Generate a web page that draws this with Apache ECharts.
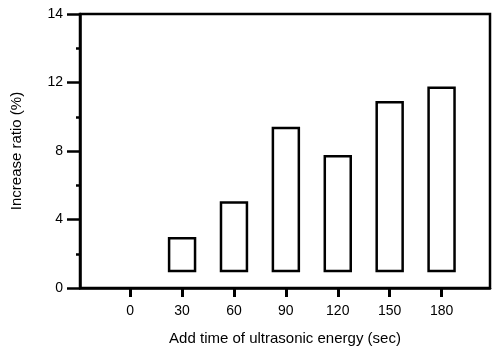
<!DOCTYPE html>
<html>
<head>
<meta charset="utf-8">
<script src="https://cdn.jsdelivr.net/npm/echarts@6/dist/echarts.min.js"></script>
<style>
  html, body { margin: 0; padding: 0; background: #fff; }
  #main { width: 492px; height: 347px; }
</style>
</head>
<body>
<div id="main"></div>
<script>
// add time of ultrasonic energy (sec)
const times = [0, 30, 60, 90, 120, 150, 180];
// bars are drawn from a base to a top (increase ratio, %)
const barTimes = [30, 60, 90, 120, 150, 180];
const barBottoms = [1, 1, 1, 1, 1, 1];
const barTops = [2.9, 5.0, 9.35, 7.7, 10.85, 11.7];
// the y tick labels as printed in the original (top one reads 14)
const yTickLabels = ['0', '4', '8', '12', '14'];

let chart = echarts.init(document.getElementById('main'));

let barData = barTimes.map((t, i) => [t, barBottoms[i], barTops[i]]);

let option = {
  animation: false,
  textStyle: { fontFamily: 'Liberation Sans, Arial, sans-serif', color: '#000' },
  grid: {
    left: 80, right: 2, top: 14, bottom: 59,
    outerBoundsMode: 'none',
    show: true,
    borderColor: '#000',
    borderWidth: 2.5
  },
  xAxis: {
    type: 'value',
    min: -29,
    max: 208,
    name: 'Add time of ultrasonic energy (sec)',
    nameLocation: 'middle',
    nameGap: 43,
    nameTextStyle: { fontSize: 15, color: '#000' },
    axisLine: { onZero: false, lineStyle: { color: '#000', width: 2.5 } },
    axisTick: { show: true, customValues: times, length: 9, lineStyle: { color: '#000', width: 3 } },
    axisLabel: { customValues: times, margin: 16, fontSize: 14, color: '#000' },
    splitLine: { show: false }
  },
  yAxis: {
    type: 'value',
    min: 0,
    max: 16,
    interval: 4,
    name: 'Increase ratio (%)',
    nameLocation: 'middle',
    nameGap: 56,
    nameTextStyle: { fontSize: 15, color: '#000' },
    axisLine: { show: true, onZero: false, lineStyle: { color: '#000', width: 2.5 } },
    axisTick: { show: true, length: 13, lineStyle: { color: '#000', width: 2.5 } },
    minorTick: { show: true, splitNumber: 2, length: 4, lineStyle: { color: '#000', width: 2.5 } },
    axisLabel: {
      margin: 17,
      fontSize: 14,
      color: '#000',
      formatter: (v, idx) => yTickLabels[idx]
    },
    splitLine: { show: false }
  },
  series: [
    {
      type: 'custom',
      data: barData,
      encode: { x: 0, y: [1, 2] },
      renderItem: function (params, api) {
        let lo = api.coord([api.value(0), api.value(1)]);
        let hi = api.coord([api.value(0), api.value(2)]);
        let w = api.size([15, 0])[0];
        return {
          type: 'rect',
          shape: { x: lo[0] - w / 2, y: hi[1], width: w, height: lo[1] - hi[1] },
          style: { fill: '#fff', stroke: '#000', lineWidth: 2.5 }
        };
      }
    }
  ]
};

chart.setOption(option);
</script>
</body>
</html>
